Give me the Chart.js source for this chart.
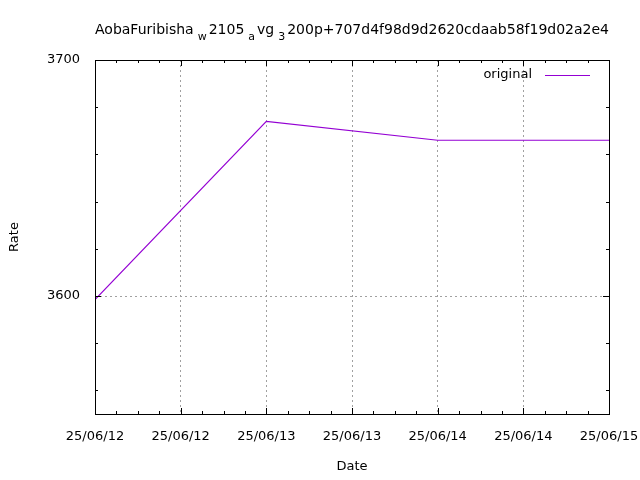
<!DOCTYPE html>
<html>
<head>
<meta charset="utf-8">
<script src="https://cdn.jsdelivr.net/npm/chart.js@4/dist/chart.umd.min.js"></script>
<style>
  html, body { margin: 0; padding: 0; background: #fff; }
  #wrap { width: 640px; height: 480px; }
</style>
</head>
<body>
<div id="wrap"><canvas id="rateChart" width="640" height="480"></canvas></div>
<script>
// gnuplot style title, "_x" means x is a subscript
const titleText = "AobaFuribisha_w2105_avg_3200p+707d4f98d9d2620cdaab58f19d02a2e4";

// hours since 25/06/12 00:00
const hours = [0, 24, 48, 72];
const rates = [3598.5, 3674, 3666, 3666];

const xMajorTicks = [0, 12, 24, 36, 48, 60, 72];
const xTickLabels = ["25/06/12", "25/06/12", "25/06/13", "25/06/13", "25/06/14", "25/06/14", "25/06/15"];
const yMajorTicks = [3600, 3700];
const yTickLabels = ["3600", "3700"];

const FONT = "DejaVu Sans";

const titlePlugin = {
    id: "gnuTitle",
    afterDraw(chart) {
        const ctx = chart.ctx;
        // split into normal / subscript pieces
        const parts = [];
        let buf = "";
        for (let i = 0; i < titleText.length; i++) {
            if (titleText[i] === "_" && i + 1 < titleText.length) {
                if (buf) parts.push({ t: buf, sub: false });
                buf = "";
                parts.push({ t: titleText[i + 1], sub: true });
                i++;
            } else {
                buf += titleText[i];
            }
        }
        if (buf) parts.push({ t: buf, sub: false });

        const big = "14px '" + FONT + "'";
        const small = "11px '" + FONT + "'";
        let total = 0;
        parts.forEach(p => {
            ctx.font = p.sub ? small : big;
            p.w = ctx.measureText(p.t).width;
            p.gap = p.sub ? 4 : 0;
            total += p.w + p.gap + (p.sub ? 2 : 0);
        });
        const area = chart.chartArea;
        let x = (area.left + area.right) / 2 - total / 2;
        ctx.save();
        ctx.fillStyle = "#000";
        ctx.textBaseline = "alphabetic";
        ctx.textAlign = "left";
        parts.forEach(p => {
            ctx.font = p.sub ? small : big;
            x += p.gap;
            ctx.fillText(p.t, x, p.sub ? 40 : 33.5);
            x += p.w + (p.sub ? 2 : 0);
        });
        ctx.restore();
    }
};

// border plus inward major/minor ticks on all four sides, and the key
const framePlugin = {
    id: "gnuFrame",
    afterDatasetsDraw(chart) {
        const ctx = chart.ctx;
        const a = chart.chartArea;
        const xs = chart.scales.x, ys = chart.scales.y;
        ctx.save();
        ctx.strokeStyle = "#000";
        ctx.lineWidth = 1;
        ctx.beginPath();
        for (let h = 0; h <= 72; h += 3) {
            const px = Math.round(xs.getPixelForValue(h)) + 0.5;
            const len = h % 12 === 0 ? 6 : 3;
            ctx.moveTo(px, a.bottom); ctx.lineTo(px, a.bottom - len);
            ctx.moveTo(px, a.top); ctx.lineTo(px, a.top + len);
        }
        for (let v = 3560; v <= 3700; v += 20) {
            const py = Math.round(ys.getPixelForValue(v)) + 0.5;
            const len = v % 100 === 0 ? 6 : 3;
            ctx.moveTo(a.left, py); ctx.lineTo(a.left + len, py);
            ctx.moveTo(a.right, py); ctx.lineTo(a.right - len, py);
        }
        ctx.stroke();
        ctx.strokeRect(Math.round(a.left) + 0.5, Math.round(a.top) + 0.5,
            Math.round(a.right - a.left), Math.round(a.bottom - a.top));

        // key, top right inside the plot
        const ds = chart.data.datasets[0];
        ctx.font = "13px '" + FONT + "'";
        ctx.fillStyle = "#000";
        ctx.textAlign = "right";
        ctx.textBaseline = "middle";
        ctx.fillText(ds.label, a.right - 77, a.top + 15);
        ctx.strokeStyle = ds.borderColor;
        ctx.beginPath();
        ctx.moveTo(a.right - 64, a.top + 15.5);
        ctx.lineTo(a.right - 19, a.top + 15.5);
        ctx.stroke();
        ctx.restore();
    }
};

const ctx = document.getElementById("rateChart").getContext("2d");
new Chart(ctx, {
    type: "line",
    data: {
        datasets: [{
            label: "original",
            data: hours.map((h, i) => ({ x: h, y: rates[i] })),
            borderColor: "#9400d3",
            borderWidth: 1.2,
            pointRadius: 0,
            tension: 0,
            fill: false
        }]
    },
    options: {
        responsive: false,
        animation: false,
        layout: { padding: { top: 60, right: 31, left: 0, bottom: 0 } },
        plugins: {
            legend: { display: false },
            title: { display: false },
            tooltip: { enabled: false }
        },
        scales: {
            x: {
                type: "linear",
                min: 0,
                max: 72,
                afterBuildTicks: s => { s.ticks = xMajorTicks.map(v => ({ value: v })); },
                afterFit: s => { s.height = 66; s.paddingLeft = 0; s.paddingRight = 0; },
                ticks: {
                    autoSkip: false,
                    maxRotation: 0,
                    padding: 15,
                    color: "#000",
                    font: { family: FONT, size: 13 },
                    callback: v => xTickLabels[xMajorTicks.indexOf(v)]
                },
                grid: { color: "#a0a0a0", lineWidth: 1, drawTicks: false },
                border: { display: false, dash: [2, 3] },
                title: {
                    display: true, text: "Date", color: "#000",
                    font: { family: FONT, size: 13 },
                    padding: { top: 0, bottom: 6 }
                }
            },
            y: {
                type: "linear",
                min: 3550,
                max: 3700,
                afterBuildTicks: s => { s.ticks = yMajorTicks.map(v => ({ value: v })); },
                afterFit: s => { s.width = 95; s.paddingTop = 0; s.paddingBottom = 0; },
                ticks: {
                    padding: 15,
                    color: "#000",
                    font: { family: FONT, size: 13 },
                    callback: v => yTickLabels[yMajorTicks.indexOf(v)]
                },
                grid: { color: "#a0a0a0", lineWidth: 1, drawTicks: false },
                border: { display: false, dash: [2, 3] },
                title: {
                    display: true, text: "Rate", color: "#000",
                    font: { family: FONT, size: 13 },
                    padding: { top: 7, bottom: 0 }
                }
            }
        }
    },
    plugins: [titlePlugin, framePlugin]
});
</script>
</body>
</html>
